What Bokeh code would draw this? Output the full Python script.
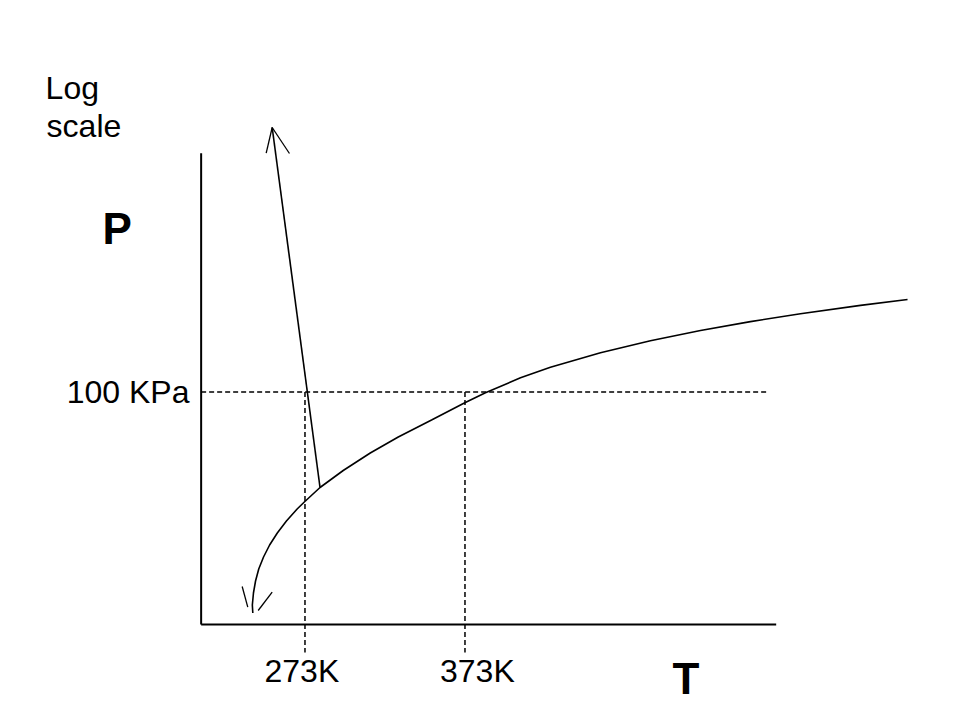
from bokeh.plotting import figure
from bokeh.models import Range1d, ColumnDataSource
from bokeh.core.properties import value
from bokeh.embed import file_html
from bokeh.resources import INLINE

# Temperature (K) and log10(P / kPa) -- schematic phase diagram of water
vap_T = [240.4, 240.1, 240.8, 242.1, 244.1, 247.1, 250.9, 255.7, 261.4, 268.1,
         272.6, 282.4, 296.9, 313.8, 331.3, 352.1, 372.9, 385.8, 407.7, 426.4,
         457.7, 488.9, 520.2, 551.4, 582.7, 620.2, 649.6]
vap_logP = [-0.21, -0.13, -0.01, 0.11, 0.23, 0.35, 0.47, 0.59, 0.71, 0.83,
            0.90, 1.045, 1.215, 1.39, 1.55, 1.72, 1.893, 1.992, 2.142, 2.248,
            2.393, 2.513, 2.615, 2.704, 2.782, 2.866, 2.925]

fus_T = [282.4, 252.5]
fus_logP = [1.045, 4.645]

# arrow strokes at the ends of the curves
arrow_x0 = [248.75, 252.5, 233.75, 243.75]
arrow_y0 = [4.388, 4.645, 0.055, -0.185]
arrow_x1 = [252.5, 263.3, 237.25, 252.5]
arrow_y1 = [4.645, 4.385, -0.152, -0.002]

# axes of the sketch
axis_T0, axis_T1 = 208.1, 567.5
axis_L0, axis_L1 = -0.325, 4.388

# reference values
ref_T = [273, 373]
ref_T_labels = ["273K", "373K"]
ref_logP = 2.0
ref_P_label = "100 KPa"
dash_T_end = 562.1
dash_L_end = -0.605

p = figure(width=960, height=720, output_backend="svg", toolbar_location=None,
           x_range=Range1d(82.7, 682.7), y_range=Range1d(-1.285, 5.915),
           x_axis_location=None, y_axis_location=None, min_border=0)
p.outline_line_color = None
p.grid.visible = False
p.background_fill_color = "white"
p.border_fill_color = "white"

# axes
p.segment(x0=[axis_T0, axis_T0], y0=[axis_L0, axis_L0], x1=[axis_T0, axis_T1], y1=[axis_L1, axis_L0],
          line_color="black", line_width=2)

# dashed reference lines
p.segment(x0=[axis_T0], y0=[ref_logP], x1=[dash_T_end], y1=[ref_logP],
          line_color="black", line_width=1.5, line_dash="5 3")
p.segment(x0=ref_T, y0=[ref_logP] * 2, x1=ref_T, y1=[dash_L_end] * 2,
          line_color="black", line_width=1.5, line_dash="5 3")

# curves
p.line(vap_T, vap_logP, line_color="black", line_width=1.6)
p.line(fus_T, fus_logP, line_color="black", line_width=1.6)
p.segment(x0=arrow_x0, y0=arrow_y0, x1=arrow_x1, y1=arrow_y1, line_color="black", line_width=1.3)

font = value("Liberation Sans")
# normal texts
src = ColumnDataSource(dict(
    x=[110.9, 111.5, 247.7, 357.4],
    y=[5.045, 4.66, -0.785, -0.785],
    t=["Log", "scale"] + ref_T_labels))
p.text(x="x", y="y", text="t", source=src, text_font=font, text_font_size="32px",
       text_color="black", text_align="left", text_baseline="alphabetic")
p.text(x=[200.8], y=[2.005], text=[ref_P_label], text_font=font, text_font_size="32px",
       text_color="black", text_align="right", text_baseline="alphabetic")
# bold axis letters
p.text(x=[146.4, 502.7], y=[3.635, -0.865], text=["P", "T"], text_font=font,
       text_font_size="44px", text_font_style="bold", text_color="black",
       text_align="left", text_baseline="alphabetic")

open("out.html", "w").write(file_html(p, INLINE))
